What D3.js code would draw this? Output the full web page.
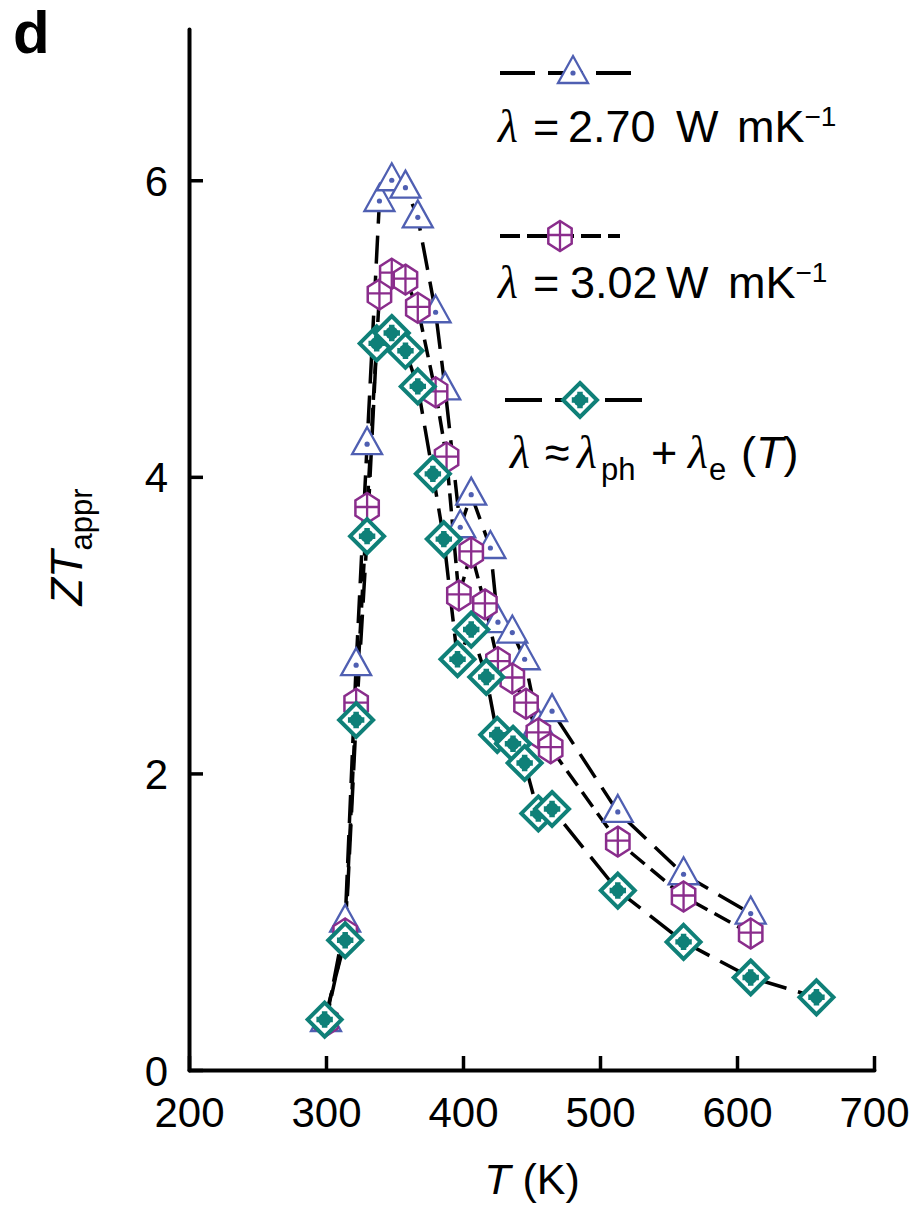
<!DOCTYPE html>
<html>
<head>
<meta charset="utf-8">
<script src="https://cdn.jsdelivr.net/npm/d3@7"></script>
<style>
  html, body { margin: 0; padding: 0; background: #fff; }
  svg { display: block; }
  text { font-family: "Liberation Sans", Arial, sans-serif; fill: #000; }
</style>
</head>
<body>
<svg id="chart" width="922" height="1206"></svg>
<script>
// ---------- data ----------
const tempTri = [300, 314, 322, 330, 339, 348, 358, 367, 380, 387, 398, 406, 420, 425.5, 436, 445, 455, 465, 513, 561, 610];
const ztTri   = [0.33, 1.0, 2.73, 4.22, 5.86, 6.00, 5.95, 5.75, 5.11, 4.59, 3.66, 3.88, 3.52, 3.02, 2.95, 2.77, 2.32, 2.42, 1.74, 1.32, 1.055];

const tempHex = [300, 314, 322, 330, 339, 348, 358, 367, 380, 388, 397, 406, 416, 425.5, 436, 446, 455, 464, 513, 561, 610];
const ztHex   = [0.33, 0.92, 2.47, 3.79, 5.23, 5.37, 5.33, 5.14, 4.57, 4.13, 3.20, 3.49, 3.14, 2.75, 2.64, 2.47, 2.27, 2.17, 1.54, 1.17, 0.92];

const tempDia = [299, 314, 322, 330, 337, 348, 358, 367, 378, 386, 396, 406, 417, 425, 436.5, 445, 455, 465, 513, 561, 610, 658];
const ztDia   = [0.34, 0.875, 2.36, 3.60, 4.90, 4.97, 4.85, 4.61, 4.02, 3.58, 2.77, 2.97, 2.65, 2.26, 2.20, 2.07, 1.73, 1.76, 1.21, 0.864, 0.624, 0.49];

const xTicks = [200, 300, 400, 500, 600, 700];
const yTicks = [0, 2, 4, 6];

// ---------- setup ----------
const svg = d3.select("#chart");
const x = d3.scaleLinear().domain([200, 700]).range([189, 874]);
const y = d3.scaleLinear().domain([0, 7.02]).range([1070, 29]);

const colTri = "#4f5fb2", colHex = "#8a2d8c", colDia = "#0f8078";

// ---------- axes ----------
const gx = svg.append("g").attr("transform", "translate(0,1070)")
  .call(d3.axisBottom(x).tickValues(xTicks).tickFormat(d3.format("d"))
        .tickSizeInner(-14).tickSizeOuter(0).tickPadding(27));
const gy = svg.append("g").attr("transform", "translate(189,0)")
  .call(d3.axisLeft(y).tickValues(yTicks).tickFormat(d3.format("d"))
        .tickSizeInner(-14).tickSizeOuter(0).tickPadding(21));
[gx, gy].forEach(g => {
  g.select(".domain").attr("stroke", "#000").attr("stroke-width", 4).attr("stroke-linecap", "round");
  g.selectAll(".tick line").attr("stroke", "#000").attr("stroke-width", 3.5);
  g.selectAll(".tick text").attr("font-size", 42).attr("font-family", "Liberation Sans, Arial, sans-serif").attr("fill", "#000");
});
gy.selectAll(".tick text").attr("dy", "0.36em");

// axis labels
svg.append("text").attr("x", 532).attr("y", 1194).attr("text-anchor", "middle").attr("font-size", 43)
  .call(t => {
    t.append("tspan").attr("font-style", "italic").text("T");
    t.append("tspan").text(" (K)");
  });
svg.append("text").attr("transform", "translate(82,547) rotate(-90)").attr("text-anchor", "middle").attr("font-size", 45)
  .call(t => {
    t.append("tspan").attr("font-style", "italic").text("ZT");
    t.append("tspan").attr("font-size", 31).attr("dy", 10).text("appr");
  });
svg.append("text").attr("x", 13).attr("y", 53).attr("font-size", 60).attr("font-weight", "bold").text("d");

// ---------- lines ----------
const line = d3.line().x(d => x(d[0])).y(d => y(d[1]));
const series = [
  {t: tempTri, v: ztTri, dash: "28,12", kind: "tri"},
  {t: tempHex, v: ztHex, dash: "18,8", kind: "hex"},
  {t: tempDia, v: ztDia, dash: "30,12", kind: "dia"}
];
series.forEach(s => {
  const pts = s.t.map((t, i) => [t, s.v[i]]);
  svg.append("path").datum(pts).attr("d", line)
    .attr("fill", "none").attr("stroke", "#000").attr("stroke-width", 3.5)
    .attr("stroke-dasharray", s.dash);
});

// ---------- markers ----------
function drawMarker(g, kind) {
  if (kind === "tri") {
    g.append("path").attr("d", "M0,-17L15,10L-15,10Z").attr("fill", "#fff")
      .attr("stroke", colTri).attr("stroke-width", 2.3).attr("stroke-linejoin", "miter");
    g.append("circle").attr("r", 2.6).attr("fill", colTri);
  } else if (kind === "hex") {
    const hp = d3.range(6).map(i => {
      const a = -Math.PI / 2 + i * Math.PI / 3;
      return [13.5 * Math.cos(a), 15 * Math.sin(a)];
    });
    g.append("path").attr("d", "M" + hp.map(p => p.join(",")).join("L") + "Z").attr("fill", "#fff")
      .attr("stroke", colHex).attr("stroke-width", 2.5);
    g.append("path").attr("d", "M0,-15V15M-12,-1H12").attr("stroke", colHex).attr("stroke-width", 2.3).attr("fill", "none");
  } else {
    g.append("path").attr("d", "M0,-17L17,0L0,17L-17,0Z").attr("fill", "#fff")
      .attr("stroke", colDia).attr("stroke-width", 4).attr("stroke-linejoin", "miter");
    g.append("circle").attr("r", 6.5).attr("fill", colDia);
    g.append("path").attr("d", d3.symbol(d3.symbolCross, 150)()).attr("fill", colDia);
  }
}
series.forEach(s => {
  s.t.forEach((t, i) => {
    const g = svg.append("g").attr("transform", `translate(${x(t)},${y(s.v[i])})`);
    drawMarker(g, s.kind);
  });
});

// ---------- legend ----------
const legend = [
  {x1: 500, x2: 632, y: 73, mx: 573, dash: "35,13", kind: "tri"},
  {x1: 500, x2: 620, y: 236, mx: 560, dash: "20,7", kind: "hex"},
  {x1: 505, x2: 642, y: 400, mx: 580, dash: "37,13", kind: "dia"}
];
legend.forEach(l => {
  svg.append("line").attr("x1", l.x1).attr("x2", l.x2).attr("y1", l.y).attr("y2", l.y)
    .attr("stroke", "#000").attr("stroke-width", 4).attr("stroke-dasharray", l.dash);
  drawMarker(svg.append("g").attr("transform", `translate(${l.mx},${l.y})`), l.kind);
});

const serif = "Liberation Serif, Times New Roman, serif";
function lam(t, xx, yy, fs) {
  t.append("tspan").attr("x", xx).attr("y", yy).attr("font-family", serif).attr("font-style", "italic").attr("font-size", fs || 46).text("λ");
}
function piece(t, xx, yy, txt, fs, extra) {
  const s = t.append("tspan").attr("font-size", fs || 45).text(txt);
  if (xx !== null) s.attr("x", xx);
  if (yy !== null) s.attr("y", yy);
  if (extra) extra(s);
  return s;
}
// entry 1
svg.append("text").call(t => {
  lam(t, 498, 142);
  piece(t, 533, 142, "=");
  piece(t, 568, 142, "2.70");
  piece(t, 676, 142, "W");
  piece(t, 737, 142, "mK");
  piece(t, null, 126, "−1", 28);
});
// entry 2
svg.append("text").call(t => {
  lam(t, 498, 298);
  piece(t, 533, 298, "=");
  piece(t, 570, 298, "3.02");
  piece(t, 666, 298, "W");
  piece(t, 728, 298, "mK");
  piece(t, null, 282, "−1", 28);
});
// entry 3
svg.append("text").call(t => {
  lam(t, 510, 468);
  piece(t, 545, 468, "≈");
  lam(t, 577, 468);
  piece(t, 601, 480, "ph", 31);
  piece(t, 651, 468, "+");
  lam(t, 688, 468);
  piece(t, 709, 480, "e", 31);
  piece(t, 741, 468, "(");
  piece(t, null, 468, "T", 45, s => s.attr("font-style", "italic"));
  piece(t, null, 468, ")");
});
</script>
</body>
</html>
